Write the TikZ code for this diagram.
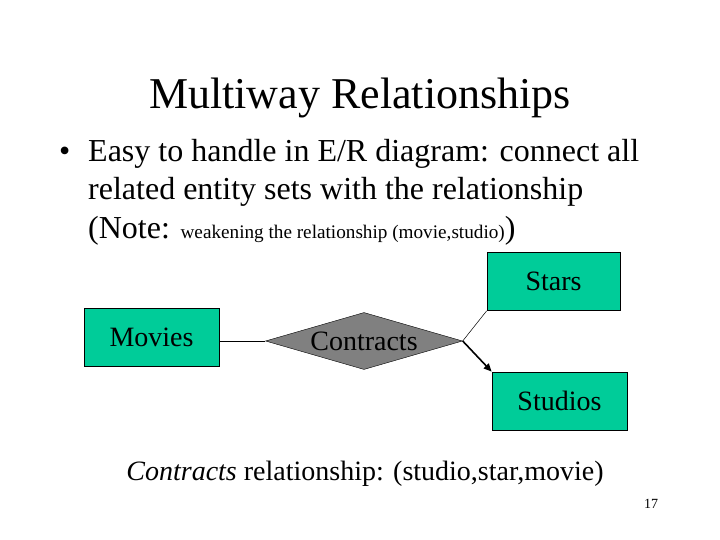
\documentclass[tikz,border=0pt]{standalone}
\usepackage{fontspec}
\setmainfont{Liberation Serif}
\usetikzlibrary{shapes.geometric,arrows.meta}
\definecolor{entfill}{RGB}{0,204,153}
\definecolor{relfill}{RGB}{128,128,128}
\tikzset{
  entity/.style={draw=black, fill=entfill, line width=0.8pt, minimum width=#1, minimum height=58pt, inner sep=0pt, font=\fontsize{28}{32}\selectfont},
  entity/.default=135pt,
  relation/.style={draw=black, fill=relfill, diamond, aspect=3.46, minimum width=197pt, minimum height=57pt, inner sep=0pt, font=\fontsize{28}{32}\selectfont},
  txt/.style={anchor=base west, inner sep=0pt},
  body/.style={font=\fontsize{32}{36}\selectfont},
  conn/.style={draw=black, line width=0.8pt},
}
\begin{document}
\begin{tikzpicture}[x=1pt,y=-1pt]
\useasboundingbox (0,0) rectangle (720,540);
\fill[white] (0,0) rectangle (720,540);
\node[anchor=base, inner sep=0pt, font=\fontsize{44}{50}\selectfont] (title) at (360,109) {Multiway Relationships};
\node[txt, body] (bul) at (59,162) {\textbullet};
\node[txt, body] (l1) at (88,162) {Easy to handle in E/R diagram: connect all};
\node[txt, body] (l2) at (88,200) {related entity sets with the relationship};
\node[txt, body] (l3) at (88,238) {(Note: {\fontsize{19.2}{23}\selectfont weakening the relationship (movie,studio)})};
\node[entity] (movies) at (151.5,337.5) {Movies};
\node[relation] (contracts) at (364,341) {Contracts};
\node[entity=133pt] (stars) at (553.5,281.5) {Stars};
\node[entity] (studios) at (559.5,401) {Studios};
\draw[conn] (movies.east |- contracts.west) -- (contracts.west);
\draw[conn, line width=0.5pt] (contracts.east) -- (stars.south west);
\draw[conn, line width=1.6pt, -{Triangle[length=8pt,width=7pt]}] (contracts.east) -- (studios.north west);
\node[anchor=base, inner sep=0pt, font=\fontsize{28}{32}\selectfont] (cap) at (365,480) {\textit{Contracts} relationship: (studio,star,movie)};
\node[anchor=base, inner sep=0pt, font=\fontsize{14}{16}\selectfont] (pg) at (651,508) {17};
\end{tikzpicture}
\end{document}
